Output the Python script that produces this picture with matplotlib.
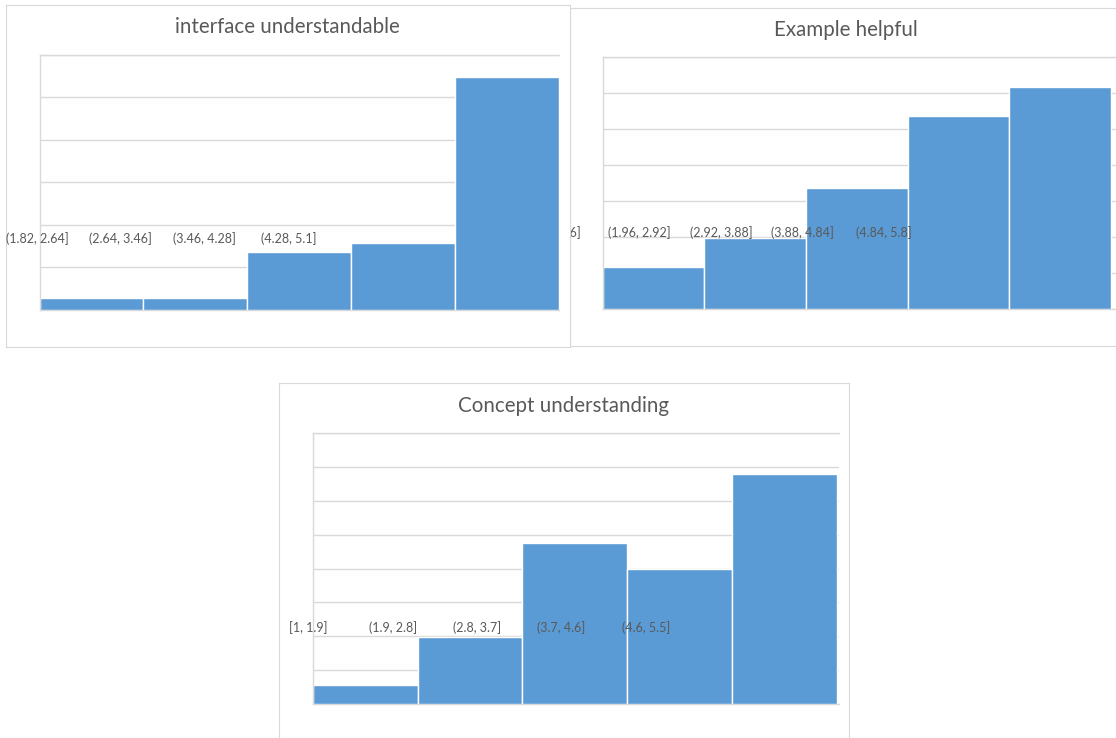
import numpy as np
import matplotlib
matplotlib.use("Agg")
import matplotlib.pyplot as plt

# ---- data (bar heights in units of one gridline step) ----
interface_title = "interface understandable"
interface_bins = ["(1.82, 2.64]", "(2.64, 3.46]", "(3.46, 4.28]", "(4.28, 5.1]"]
interface_freq = [0.275, 0.275, 1.37, 1.565, 5.48]

example_title = "Example helpful"
example_bins = ["[1, 1.96]", "(1.96, 2.92]", "(2.92, 3.88]", "(3.88, 4.84]", "(4.84, 5.8]"]
example_freq = [1.17, 1.99, 3.38, 5.38, 6.18]

concept_title = "Concept understanding"
concept_bins = ["[1, 1.9]", "(1.9, 2.8]", "(2.8, 3.7]", "(3.7, 4.6]", "(4.6, 5.5]"]
concept_freq = [0.56, 1.97, 4.77, 3.98, 6.79]

# ---- styling ----
W, H = 1116, 738
BAR = "#5B9BD5"
GRID = "#D9D9D9"
TXT = "#595959"
FONT = "Lato"

fig = plt.figure(figsize=(W / 100, H / 100), dpi=100)
fig.patch.set_facecolor("white")


def frac(x0, y0, x1, y1):
    """Pixel box (top-left origin) -> figure fraction rect."""
    return [x0 / W, 1 - y1 / H, (x1 - x0) / W, (y1 - y0) / H]


def fx(x):
    return x / W


def fy(y):
    return 1 - y / H


def histogram_panel(z, panel_box, plot_box, bars_right, nsteps, freq, title,
                    title_xy, bins, label_x0, label_dx, label_y):
    panel = fig.add_axes(frac(*panel_box), zorder=z)
    panel.set_facecolor("white")
    panel.set_xticks([])
    panel.set_yticks([])
    for s in panel.spines.values():
        s.set_color(GRID)
        s.set_linewidth(0.8)
    panel.text(fx(title_xy[0]), fy(title_xy[1]), title, transform=fig.transFigure,
               ha="center", va="center", color=TXT, fontsize=14.8, family=FONT)

    ax = fig.add_axes(frac(*plot_box), zorder=z + 0.5)
    ax.set_facecolor("none")
    n = len(freq)
    x = np.arange(n)
    ax.bar(x, freq, width=1.0, color=BAR, edgecolor="white", linewidth=1.0, zorder=2)
    # gridlines may run a little past the last bar
    px_per_bar = (bars_right - plot_box[0]) / n
    extra = (plot_box[2] - bars_right) / px_per_bar
    ax.set_xlim(-0.5, n - 0.5 + extra)
    ax.set_ylim(0, nsteps)
    ax.set_yticks(np.arange(nsteps + 1))
    ax.yaxis.grid(True, color=GRID, linewidth=1.0)
    ax.set_axisbelow(True)
    ax.tick_params(left=False, bottom=False, labelleft=False, labelbottom=False)
    for side in ("left", "top", "bottom"):
        ax.spines[side].set_color(GRID)
        ax.spines[side].set_linewidth(1.0)
    ax.spines["right"].set_visible(False)
    ax.spines["bottom"].set_zorder(1)

    for i, lab in enumerate(bins):
        ax.text(fx(label_x0 + i * label_dx), fy(label_y), lab, transform=fig.transFigure,
                ha="center", va="center", color=TXT, fontsize=9, family=FONT,
                clip_on=False, zorder=5)
    return ax


# top-right chart sits underneath the top-left one
histogram_panel(1, (570, 8, 1122, 346), (602.5, 57.3, 1116, 309.3), 1111, 7,
                example_freq, example_title, (846, 30),
                example_bins, 558, 81.5, 233)

histogram_panel(3, (6, 5, 570, 347), (39.5, 54.7, 558.5, 310), 558.5, 6,
                interface_freq, interface_title, (287, 27),
                interface_bins, 37, 83.8, 239)

histogram_panel(5, (279, 383, 849, 745), (312.7, 433.3, 838.5, 704), 837, 8,
                concept_freq, concept_title, (564, 406),
                concept_bins, 308.3, 84.4, 627.3)

fig.savefig("out.png", dpi=100, facecolor="white")
